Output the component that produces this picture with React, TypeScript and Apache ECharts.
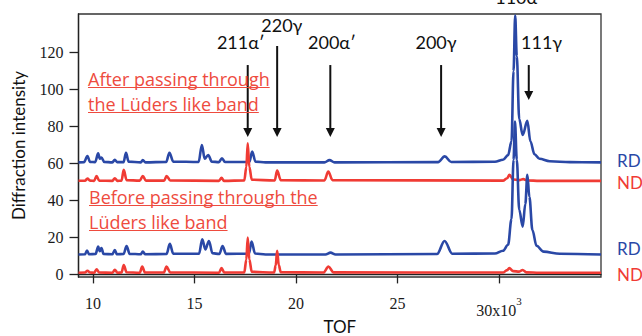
import React, { useEffect, useRef } from "react";
import * as echarts from "echarts";

// ---- axes ----
const xTicks = [10, 15, 20, 25, 30];
const yTicks = [0, 20, 40, 60, 80, 100, 120];
const xMin = 9.28;
const xMax = 35.03;
const yMin = -1.4;
const yMax = 140.8;

// ---- spectra: [TOF (x10^3), diffraction intensity] ----
const rdAfter: [number, number][] = [
  [9.28, 60.6], [9.55, 60.7], [9.72, 64], [9.85, 60.8], [10.1, 60.7], [10.25, 65.5], [10.33, 62.5], [10.41, 63.2], [10.55, 60.8],
  [10.95, 60.6], [11.07, 62], [11.18, 60.7], [11.5, 60.7], [11.62, 65.8], [11.75, 61], [12.35, 60.6], [12.45, 61.8], [12.58, 60.6],
  [13.6, 60.8], [13.76, 65.8], [13.95, 61], [15.2, 60.8], [15.36, 70], [15.5, 62.5], [15.67, 64.6], [15.85, 61], [16.2, 60.7],
  [16.35, 62.8], [16.5, 60.8], [17.7, 60.8], [17.84, 66.4], [18.0, 61], [18.5, 60.6], [21.4, 60.6], [21.65, 61.8], [21.9, 60.6],
  [27.0, 60.7], [27.33, 63.8], [27.65, 60.8], [29.8, 60.9], [30.2, 62], [30.45, 64.5], [30.62, 72], [30.72, 110], [30.8, 140],
  [30.88, 118], [31.0, 84], [31.17, 75.4], [31.4, 83], [31.55, 72], [31.75, 65], [32.0, 62.5], [32.5, 61.2], [33.5, 60.7], [35.03, 60.6],
];
const ndAfter: [number, number][] = [
  [9.28, 50.6], [9.6, 50.7], [9.72, 51.8], [9.85, 50.7], [10.05, 50.6], [10.17, 53.2], [10.3, 50.7], [10.95, 50.6], [11.07, 52],
  [11.2, 50.6], [11.4, 50.7], [11.51, 56.5], [11.65, 51], [12.3, 50.7], [12.45, 53.2], [12.6, 50.7], [13.5, 50.7], [13.62, 53.2],
  [13.8, 50.8], [16.2, 50.6], [16.33, 52.2], [16.45, 50.6], [17.45, 50.8], [17.55, 58], [17.62, 70.9], [17.7, 58], [17.82, 51.2],
  [18.95, 50.8], [19.07, 56.1], [19.25, 50.9], [21.4, 50.8], [21.59, 55.6], [21.8, 51], [30.2, 50.7], [30.4, 52], [30.52, 53.8],
  [30.7, 51.3], [31.0, 51], [31.2, 51.5], [31.4, 50.8], [32, 50.6], [35.03, 50.6],
];
const rdBefore: [number, number][] = [
  [9.28, 10.8], [9.6, 10.9], [9.7, 12.9], [9.8, 10.9], [10.12, 11], [10.25, 15], [10.33, 12.5], [10.41, 14.2], [10.52, 11],
  [10.95, 10.9], [11.07, 13.2], [11.17, 10.9], [11.5, 11], [11.65, 15.4], [11.8, 11.1], [12.35, 10.9], [12.45, 12.3], [12.57, 10.9],
  [13.62, 11], [13.78, 16.5], [13.95, 11.2], [15.22, 11.2], [15.38, 19], [15.53, 13.5], [15.71, 18.1], [15.88, 11.5], [16.22, 11],
  [16.38, 15.4], [16.55, 11.1], [17.68, 11.2], [17.81, 17.7], [17.98, 11.3], [18.5, 10.8], [21.45, 10.8], [21.7, 11.8], [21.95, 10.8],
  [26.95, 11], [27.32, 18.1], [27.7, 11.2], [29.8, 11.3], [30.2, 12.8], [30.45, 16], [30.62, 30], [30.72, 62], [30.79, 82.6],
  [30.88, 62], [31.0, 35], [31.17, 25.8], [31.3, 38], [31.4, 53.8], [31.5, 42], [31.65, 24], [31.85, 15.5], [32.2, 12.3],
  [33, 11.2], [35.03, 10.8],
];
const ndBefore: [number, number][] = [
  [9.28, 0.9], [9.6, 1], [9.72, 2], [9.85, 1], [10.05, 0.9], [10.17, 2.8], [10.3, 1], [10.95, 0.9], [11.07, 2.5], [11.2, 0.9],
  [11.4, 1], [11.51, 5.1], [11.65, 1.2], [12.3, 0.9], [12.42, 4.2], [12.56, 1], [13.48, 1], [13.62, 4.2], [13.8, 1.1], [16.2, 0.9],
  [16.33, 3.4], [16.46, 1], [17.45, 1.1], [17.55, 8], [17.62, 19.9], [17.7, 8], [17.82, 1.4], [18.92, 1], [19.0, 5], [19.07, 12.7],
  [19.15, 5], [19.25, 1.2], [21.35, 1], [21.6, 4.2], [21.85, 1.1], [30.2, 1], [30.4, 2.3], [30.51, 3.4], [30.7, 1.8], [31.0, 1.5],
  [31.17, 2.4], [31.35, 1.1], [32, 0.9], [35.03, 0.9],
];
const seriesNames = ["RD", "ND", "RD", "ND"];

// ---- peak annotations ----
const annLabels = ["211α′", "220γ", "200α′", "200γ", "110α", "111γ"];
const annLabelTof = [17.28, 19.3, 21.77, 26.9, 30.85, 32.1];
const annLabelY = [125.7, 134.9, 125.7, 125.7, 150.2, 125.7];
const arrowTof = [17.62, 19.07, 21.69, 27.15, NaN, 31.47];
const arrowFrom = [113.2, 123.5, 113.2, 113.2, NaN, 113.2];
const arrowTo = [74.3, 74.3, 74.3, 74.3, NaN, 94.3];

const noteAfter = ["After passing through", "the Lüders like band"];
const noteBefore = ["Before passing through the", "Lüders like band"];

const BLUE = "#2a48a6";
const RED = "#f03b34";
const NOTE_RED = "#ee4b3e";
const SANS = "Lato";
const NOTE_FONT = "Open Sans";
const SERIF = "Times New Roman";

export default function App() {
  const ref = useRef<HTMLDivElement>(null);
  useEffect(() => {
    const chart = echarts.init(ref.current!, null, { renderer: "svg" });
    const mk = (name: string, data: [number, number][], color: string, dy: number) => ({
      type: "line",
      name,
      data,
      showSymbol: false,
      symbol: "none",
      smooth: 0.35,
      smoothMonotone: "x",
      silent: true,
      lineStyle: { color, width: 2.6 },
      itemStyle: { color },
      emphasis: { disabled: true },
      endLabel: {
        show: true,
        formatter: name,
        color,
        fontFamily: SANS,
        fontSize: 17,
        distance: 16,
        offset: [0, dy],
      },
    });
    const axisLine = { show: true, lineStyle: { color: "#222", width: 1.3 } };
    chart.setOption({
      animation: false,
      backgroundColor: "#ffffff",
      textStyle: { fontFamily: SERIF },
      grid: {
        left: 78.5, top: 14, right: 41, bottom: 59,
        outerBoundsMode: "none", containLabel: false,
        show: true, borderColor: "#333", borderWidth: 1.3,
      },
      xAxis: {
        type: "value",
        min: xMin,
        max: xMax,
        name: "TOF",
        nameLocation: "middle",
        nameGap: 41,
        nameMoveOverlap: false,
        nameTextStyle: { fontFamily: SANS, fontSize: 17, color: "#111" },
        axisLine,
        splitLine: { show: false },
        axisTick: { show: true, length: 9, customValues: xTicks, lineStyle: { color: "#222", width: 1.3 } },
        axisLabel: {
          customValues: xTicks,
          margin: 18,
          fontFamily: SERIF,
          fontSize: 16,
          color: "#1a1a1a",
          formatter: (v: number) => (v === 30 ? "{m|30x10}{s|3}" : "{a|" + v + "}"),
          rich: {
            a: { fontFamily: SERIF, fontSize: 16, color: "#1a1a1a" },
            m: { fontFamily: SERIF, fontSize: 16, color: "#1a1a1a", padding: [7, 0, 0, 0], verticalAlign: "top" },
            s: { fontFamily: SERIF, fontSize: 11, color: "#1a1a1a", verticalAlign: "top" },
          },
        },
      },
      yAxis: {
        type: "value",
        min: yMin,
        max: yMax,
        name: "Diffraction intensity",
        nameLocation: "middle",
        nameGap: 52,
        nameRotate: 90,
        nameMoveOverlap: false,
        nameTextStyle: { fontFamily: SANS, fontSize: 17, color: "#111" },
        axisLine,
        splitLine: { show: false },
        axisTick: { show: true, length: 9, customValues: yTicks, lineStyle: { color: "#222", width: 1.3 } },
        axisLabel: {
          customValues: yTicks,
          margin: 15,
          formatter: (v: number) => "{a|" + v + "}",
          rich: { a: { fontFamily: SERIF, fontSize: 16, color: "#1a1a1a" } },
        },
      },
      series: [
        mk(seriesNames[0], rdAfter, BLUE, -2),
        mk(seriesNames[1], ndAfter, RED, 2),
        mk(seriesNames[2], rdBefore, BLUE, -6),
        mk(seriesNames[3], ndBefore, RED, 2),
      ],
    });

    const px = (x: number, y: number) => chart.convertToPixel({ gridIndex: 0 }, [x, y]) as number[];
    const g: any[] = [];
    annLabels.forEach((lab, i) => {
      const [lx, ly] = px(annLabelTof[i], annLabelY[i]);
      g.push({
        type: "text",
        x: lx,
        y: ly,
        z: 100,
        style: {
          text: lab, fill: "#111", fontSize: 18, fontFamily: SANS,
          align: "center", verticalAlign: "middle", textAlign: "center", textVerticalAlign: "middle",
        },
      });
      if (!isNaN(arrowTof[i])) {
        const [ax, ay1] = px(arrowTof[i], arrowFrom[i]);
        const [, ay2] = px(arrowTof[i], arrowTo[i]);
        g.push({ type: "line", z: 100, shape: { x1: ax, y1: ay1, x2: ax, y2: ay2 - 7 }, style: { stroke: "#111", lineWidth: 2 } });
        g.push({
          type: "polygon", z: 100,
          shape: { points: [[ax - 4.5, ay2 - 9], [ax + 4.5, ay2 - 9], [ax, ay2]] },
          style: { fill: "#111" },
        });
      }
    });
    const ctx = document.createElement("canvas").getContext("2d")!;
    const NOTE_SIZE = 18;
    const note = (lines: string[], left: number, top: number, gap: number) => {
      lines.forEach((t, i) => {
        ctx.font = `${NOTE_SIZE}px "${NOTE_FONT}"`;
        const w = ctx.measureText(t).width;
        const cy = top + i * gap;
        g.push({
          type: "text", x: left, y: cy, z: 100,
          style: {
            text: t, fill: NOTE_RED, fontSize: NOTE_SIZE, fontFamily: NOTE_FONT,
            align: "left", verticalAlign: "middle", textAlign: "left", textVerticalAlign: "middle",
          },
        });
        g.push({ type: "line", z: 100, shape: { x1: left, y1: cy + 8.5, x2: left + w, y2: cy + 8.5 }, style: { stroke: NOTE_RED, lineWidth: 1 } });
      });
    };
    note(noteAfter, 88, 79, 25);
    note(noteBefore, 89, 197, 25);
    chart.setOption({ graphic: g });

    return () => chart.dispose();
  }, []);
  return (
    <div
      ref={ref}
      style={{ position: "fixed", left: 0, top: 0, width: 642, height: 336, background: "#fff" }}
    />
  );
}
